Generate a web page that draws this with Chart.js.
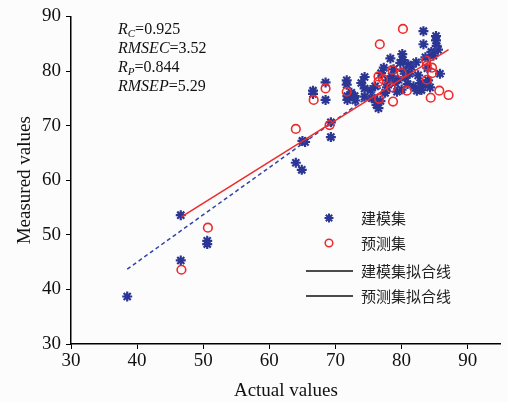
<!DOCTYPE html>
<html>
<head>
<meta charset="utf-8">
<script src="https://cdn.jsdelivr.net/npm/chart.js@4"></script>
<style>
html, body { margin: 0; padding: 0; background: #fcfcfc; }
</style>
</head>
<body>
<canvas id="myChart" width="508" height="402"></canvas>
<script>
// calibration set (建模集)
var calX = [38.5, 46.6, 46.6, 50.6, 50.6, 64.0, 64.9, 65.0, 65.4, 69.3, 69.3,
    66.6, 66.6, 68.5, 68.5, 71.7, 71.7, 71.8, 71.8, 72.4, 72.9, 73.0, 74.4, 74.4, 74.4,
    75.5, 76.0, 76.2, 76.5, 76.8, 77.3, 77.5, 77.8, 78.3, 78.5, 79.0, 79.3, 79.8, 80.1,
    80.2, 80.3, 80.6, 80.9, 81.2, 81.5, 81.8, 82.2, 82.5, 82.8, 83.3, 83.3, 83.6, 83.9,
    84.0, 84.3, 84.5, 84.8, 85.2, 85.2, 85.3, 85.5, 85.8, 76.9, 77.9, 75.3, 73.9, 78.8,
    81.0, 80.0, 83.0, 75.9, 79.5, 82.3, 83.6];
var calY = [38.7, 53.6, 45.3, 48.9, 48.3, 63.2, 61.9, 67.2, 67.0, 70.6, 67.9,
    76.4, 75.8, 77.9, 74.7, 78.3, 77.5, 75.4, 74.7, 76.0, 75.4, 74.6, 78.9, 76.8, 75.3,
    75.0, 77.2, 73.8, 73.2, 74.5, 80.6, 76.0, 77.0, 82.3, 79.0, 77.8, 76.2, 81.5, 83.1,
    82.0, 80.0, 78.8, 77.6, 79.5, 80.8, 77.2, 81.6, 79.2, 77.8, 87.3, 84.9, 82.5, 80.5,
    78.3, 77.0, 83.5, 82.8, 86.4, 85.6, 84.6, 83.9, 79.5, 79.6, 78.3, 76.5, 77.8, 80.3,
    81.2, 76.6, 76.5, 74.9, 78.4, 76.4, 77.6];
// prediction set (预测集)
var predX = [46.7, 50.7, 64.0, 69.1, 66.7, 68.5, 71.7, 76.5, 76.5, 77.2, 76.6, 76.7, 78.6,
    80.0, 80.2, 78.4, 78.7, 80.8, 83.7, 83.8, 84.6, 84.6, 83.8, 84.4, 85.7, 87.1];
var predY = [43.6, 51.3, 69.4, 70.1, 74.7, 76.8, 76.2, 79.0, 78.0, 78.5, 74.9, 84.9, 80.2,
    79.6, 87.7, 77.0, 74.4, 76.4, 81.9, 81.0, 80.6, 79.6, 78.4, 75.1, 76.4, 75.6];
// fitted lines (end points)
var calFitX = [38.5, 85.8];
var calFitY = [43.7, 84.7];
var predFitX = [46.7, 87.1];
var predFitY = [53.3, 83.9];

var xTicks = [30, 40, 50, 60, 70, 80, 90];
var yTicks = [30, 40, 50, 60, 70, 80, 90];
var legendLabels = ['建模集', '预测集', '建模集拟合线', '预测集拟合线'];
var statLines = [['R', 'C', '=0.925'], ['RMSEC', '', '=3.52'], ['R', 'P', '=0.844'], ['RMSEP', '', '=5.29']];

var blue = '#2b3694';
var red = '#ee2a2a';
var serif = 'Liberation Serif';

function pts(xs, ys) {
    return xs.map(function (x, i) { return { x: x, y: ys[i] }; });
}

var extras = {
    id: 'extras',
    beforeDraw: function (chart) {
        var c = chart.ctx;
        c.save();
        c.fillStyle = '#fcfcfc';
        c.fillRect(0, 0, chart.width, chart.height);
        c.restore();
    },
    afterDraw: function (chart) {
        var c = chart.ctx;
        c.save();
        // statistics text
        c.fillStyle = '#111';
        c.textBaseline = 'middle';
        statLines.forEach(function (s, i) {
            var x = 118, y = 30 + i * 19;
            c.font = 'italic 16px "' + serif + '"';
            c.fillText(s[0], x, y);
            x += c.measureText(s[0]).width;
            if (s[1]) {
                c.font = 'italic 11px "' + serif + '"';
                c.fillText(s[1], x, y + 4);
                x += c.measureText(s[1]).width;
            }
            c.font = '16px "' + serif + '"';
            c.fillText(s[2], x, y);
        });
        // legend
        var rows = [218, 243, 271, 296];
        c.strokeStyle = blue;
        c.fillStyle = blue;
        c.lineWidth = 2;
        Chart.helpers.drawPoint(c, { pointStyle: 'star', radius: 4.5, borderWidth: 2 }, 329, rows[0]);
        c.strokeStyle = red;
        c.lineWidth = 1.5;
        c.beginPath();
        c.arc(329, rows[1], 3.8, 0, Math.PI * 2);
        c.stroke();
        c.strokeStyle = '#111';
        c.lineWidth = 1.5;
        [rows[2], rows[3]].forEach(function (y) {
            c.beginPath();
            c.moveTo(306, y);
            c.lineTo(353, y);
            c.stroke();
        });
        c.font = '15px "Noto Sans CJK SC"';
        c.fillStyle = '#222';
        legendLabels.forEach(function (t, i) {
            c.fillText(t, 361, rows[i]);
        });
        c.restore();
    }
};

var ctx = document.getElementById('myChart').getContext('2d');
var myChart = new Chart(ctx, {
    type: 'scatter',
    data: {
        datasets: [{
            label: '预测集拟合线',
            type: 'line',
            data: pts(predFitX, predFitY),
            borderColor: red,
            borderWidth: 1.5,
            pointRadius: 0,
            order: 0
        }, {
            label: '建模集拟合线',
            type: 'line',
            data: pts(calFitX, calFitY),
            borderColor: '#3342a6',
            borderWidth: 1.5,
            borderDash: [4, 3],
            pointRadius: 0,
            order: 1
        }, {
            label: '预测集',
            data: pts(predX, predY),
            pointStyle: 'circle',
            pointRadius: 4.3,
            borderWidth: 1.6,
            borderColor: red,
            backgroundColor: 'rgba(0,0,0,0)',
            order: 2
        }, {
            label: '建模集',
            data: pts(calX, calY),
            pointStyle: 'star',
            pointRadius: 5,
            borderWidth: 2.2,
            borderColor: blue,
            backgroundColor: blue,
            order: 3
        }]
    },
    options: {
        responsive: false,
        animation: false,
        layout: { padding: { top: 15, right: 0, left: 0, bottom: 0 } },
        plugins: { legend: { display: false }, tooltip: { enabled: false } },
        scales: {
            x: {
                type: 'linear',
                min: 30,
                max: 95,
                afterBuildTicks: function (s) { s.ticks = xTicks.map(function (v) { return { value: v }; }); },
                afterFit: function (s) { s.height = 58; },
                grid: { display: true, drawOnChartArea: false, drawTicks: true, tickLength: 5, color: '#000', lineWidth: 1 },
                border: { display: true, color: '#000', width: 1.5 },
                ticks: { color: '#111', font: { family: serif, size: 19 }, padding: 1, maxRotation: 0, autoSkip: false },
                title: { display: true, text: 'Actual values', color: '#111', font: { family: serif, size: 19 }, padding: { top: 0, bottom: 0 } }
            },
            y: {
                type: 'linear',
                min: 30,
                max: 90,
                afterBuildTicks: function (s) { s.ticks = yTicks.map(function (v) { return { value: v }; }); },
                afterFit: function (s) { s.width = 71; },
                grid: { display: true, drawOnChartArea: false, drawTicks: true, tickLength: 5, color: '#000', lineWidth: 1 },
                border: { display: true, color: '#000', width: 1.5 },
                ticks: { color: '#111', font: { family: serif, size: 19 }, padding: 5, autoSkip: false },
                title: { display: true, text: 'Measured values', color: '#111', font: { family: serif, size: 19 }, padding: { top: 14, bottom: 0 } }
            }
        }
    },
    plugins: [extras]
});
</script>
</body>
</html>
